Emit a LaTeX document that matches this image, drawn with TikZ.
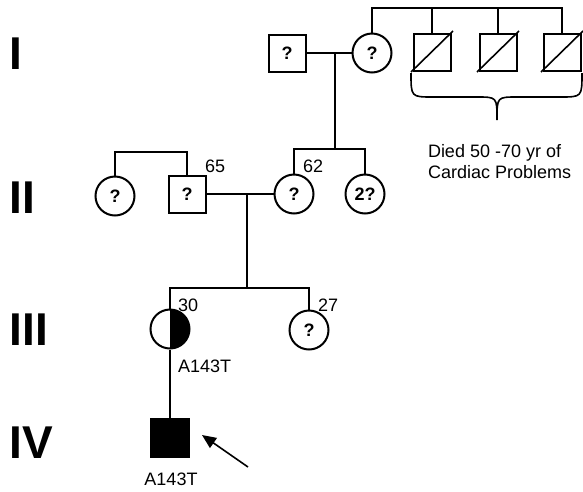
\documentclass[tikz,border=0pt]{standalone}
\usepackage{fontspec}
\setmainfont{Liberation Sans}
\usetikzlibrary{arrows.meta,calc}
\begin{document}
\begin{tikzpicture}[x=1pt,y=-1pt,
  line width=2pt, line join=miter,
  fem/.style={draw,circle,minimum size=39pt,inner sep=0pt,font=\fontsize{18}{20}\selectfont\bfseries},
  mal/.style={draw,rectangle,minimum size=37pt,inner sep=0pt,font=\fontsize{18}{20}\selectfont\bfseries},
  lbl/.style={inner sep=0pt,anchor=base west,font=\fontsize{18}{21}\selectfont},
  gen/.style={inner sep=0pt,anchor=base west,font=\fontsize{46}{46}\selectfont\bfseries}]
\useasboundingbox (0,0) rectangle (583,491);
% generation labels
\node[gen] (gI) at (8.6,69) {I};
\node[gen] (gII) at (8.6,213) {II};
\node[gen] (gIII) at (8.6,345) {III};
\node[gen] (gIV) at (8.6,458) {IV};
% generation I
\node[mal] (sq1) at (287,53) {?};
\node[fem] (c1) at (372,53) {?};
\node[mal] (d1) at (432,52) {};
\node[mal] (d2) at (498,52) {};
\node[mal] (d3) at (562,52) {};
\foreach \d in {d1,d2,d3}{
  \draw[line width=1.6pt] ([shift={(-21,20)}]\d.center) -- ([shift={(21,-21)}]\d.center);
}
\draw (c1.north) -- (c1.north |- 0,8) -- (d3.north |- 0,8) -- (d3.north);
\draw (d1.north) -- (d1.north |- 0,8);
\draw (d2.north) -- (d2.north |- 0,8);
\draw (sq1.east) -- (c1.west);
\coordinate (m1) at (335,53);
\draw (m1) -- (m1 |- 0,149);
% brace
\draw[line width=1.6pt] (411,73) .. controls (411,97) and (411,97) .. (433,97) -- (477,97)
  .. controls (497,97) and (497,97) .. (497,120)
  .. controls (497,97) and (497,97) .. (517,97) -- (560,97)
  .. controls (582,97) and (582,97) .. (582,73);
\node[lbl] (died1) at (427,157) {Died 50 -70 yr of};
\node[lbl] (died2) at (427,178) {Cardiac Problems};
% generation II
\node[fem] (c2a) at (115,196) {?};
\node[mal] (sq2) at (187,194) {?};
\node[fem] (c2b) at (294,194) {?};
\node[fem] (c2c) at (365,194) {2?};
\draw (c2a.north) -- (c2a.north |- 0,152) -- (sq2.north |- 0,152) -- (sq2.north);
\draw (c2b.north) -- (c2b.north |- 0,149) -- (c2c.north |- 0,149) -- (c2c.north);
\node[lbl] (a65) at (204,172) {65};
\node[lbl] (a62) at (302,172) {62};
\draw (sq2.east) -- (c2b.west);
\coordinate (m2) at (247,194);
\draw (m2) -- (m2 |- 0,288);
% generation III
\node[fem,path picture={\fill (path picture bounding box.north) rectangle (path picture bounding box.south east);}] (c3a) at (170,329) {};
\node[fem] (c3b) at (309,330) {?};
\draw (c3a.north) -- (c3a.north |- 0,288) -- (c3b.north |- 0,288) -- (c3b.north);
\node[lbl] (a30) at (177,311) {30};
\node[lbl] (a27) at (317,311) {27};
\node[lbl] (g3) at (177,372) {A143T};
% generation IV
\node[mal,fill=black,minimum size=38pt] (sq4) at (170,438) {};
\draw (c3a.south) -- (sq4.north);
\node[inner sep=0pt,anchor=base,font=\fontsize{18}{21}\selectfont] (g4) at (171,485) {A143T};
\coordinate (arrtail) at (248,467);
\coordinate (arrtip) at (202,435);
\draw[line width=1.6pt,-{Triangle[length=14pt,width=12pt]}] (arrtail) -- (arrtip);
\end{tikzpicture}
\end{document}
